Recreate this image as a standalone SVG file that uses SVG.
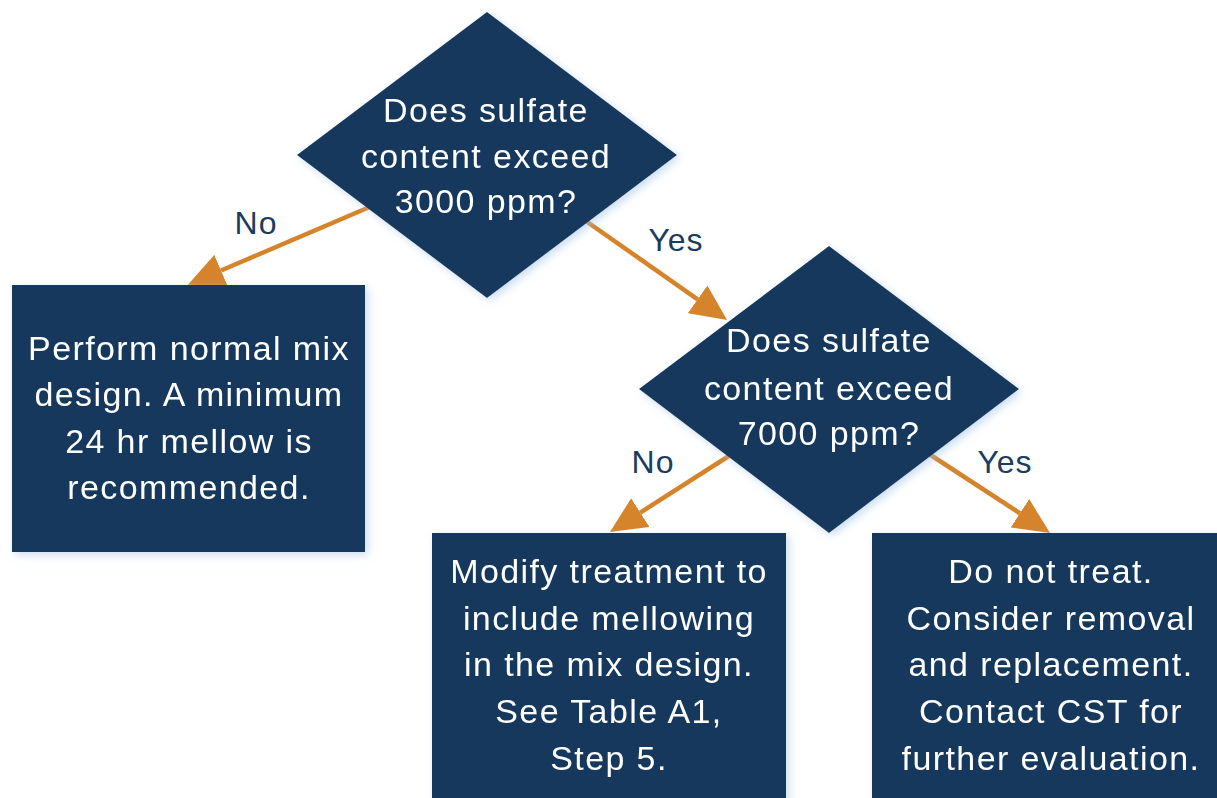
<svg xmlns="http://www.w3.org/2000/svg" width="1217" height="798" viewBox="0 0 1217 798">
  <style>
    .shape { fill: #14395d; }
    .node { filter: url(#glow); }
    .body { fill: #ffffff; font-family: "Liberation Sans", Arial, sans-serif; font-size: 34px; letter-spacing: 1.4px; text-anchor: middle; }
    .edge { stroke: #d5842c; stroke-width: 4.5; fill: none; marker-end: url(#head); }
    .label { fill: #1b3c5e; font-family: "Liberation Sans", Arial, sans-serif; font-size: 32px; letter-spacing: 1px; text-anchor: middle; }
  </style>
  <defs>
    <filter id="glow" x="-10%" y="-10%" width="125%" height="125%">
      <feDropShadow dx="3" dy="3" stdDeviation="4" flood-color="#9fc3e6" flood-opacity="0.55"/>
    </filter>
    <marker id="head" viewBox="0 0 36 34" refX="0" refY="17" markerWidth="36" markerHeight="34" markerUnits="userSpaceOnUse" orient="auto">
      <path d="M0,0 L36,17 L0,34 Z" fill="#d5842c"/>
    </marker>
  </defs>

  <rect width="1217" height="798" fill="#ffffff"/>

  <!-- connectors: each line stops at the base of its arrowhead -->
  <g id="connectors">
    <line class="edge" x1="372" y1="206" x2="221" y2="270.5"/>
    <line class="edge" x1="583" y1="219" x2="697.6" y2="299.3"/>
    <line class="edge" x1="732" y1="454" x2="640.3" y2="512.6"/>
    <line class="edge" x1="926" y1="452" x2="1019.9" y2="513.3"/>
    <text class="label" x="256" y="234">No</text>
    <text class="label" x="676" y="251">Yes</text>
    <text class="label" x="653" y="473">No</text>
    <text class="label" x="1005" y="473">Yes</text>
  </g>

  <!-- first decision -->
  <g id="decision-3000" class="node">
    <polygon class="shape" points="487,12 677,155 487,298 297,155"/>
    <text class="body" x="486" y="122">Does sulfate</text>
    <text class="body" x="486" y="168">content exceed</text>
    <text class="body" x="486" y="213">3000 ppm?</text>
  </g>

  <!-- second decision -->
  <g id="decision-7000" class="node">
    <polygon class="shape" points="829,246 1019,389 829,533 639,389"/>
    <text class="body" x="829" y="352">Does sulfate</text>
    <text class="body" x="829" y="400">content exceed</text>
    <text class="body" x="829" y="445">7000 ppm?</text>
  </g>

  <!-- outcome: below 3000 ppm -->
  <g id="normal-mix" class="node">
    <rect class="shape" x="12" y="285" width="353" height="267"/>
    <text class="body" x="189" y="360">Perform normal mix</text>
    <text class="body" x="189" y="406">design. A minimum</text>
    <text class="body" x="189" y="453">24 hr mellow is</text>
    <text class="body" x="189" y="499">recommended.</text>
  </g>

  <!-- outcome: 3000 to 7000 ppm -->
  <g id="modify-treatment" class="node">
    <rect class="shape" x="432" y="533" width="354" height="280"/>
    <text class="body" x="609" y="583">Modify treatment to</text>
    <text class="body" x="609" y="630">include mellowing</text>
    <text class="body" x="609" y="676">in the mix design.</text>
    <text class="body" x="609" y="723">See Table A1,</text>
    <text class="body" x="609" y="770">Step 5.</text>
  </g>

  <!-- outcome: above 7000 ppm -->
  <g id="do-not-treat" class="node">
    <rect class="shape" x="872" y="533" width="360" height="280"/>
    <text class="body" x="1051" y="583">Do not treat.</text>
    <text class="body" x="1051" y="630">Consider removal</text>
    <text class="body" x="1051" y="676">and replacement.</text>
    <text class="body" x="1051" y="723">Contact CST for</text>
    <text class="body" x="1051" y="770">further evaluation.</text>
  </g>
</svg>
